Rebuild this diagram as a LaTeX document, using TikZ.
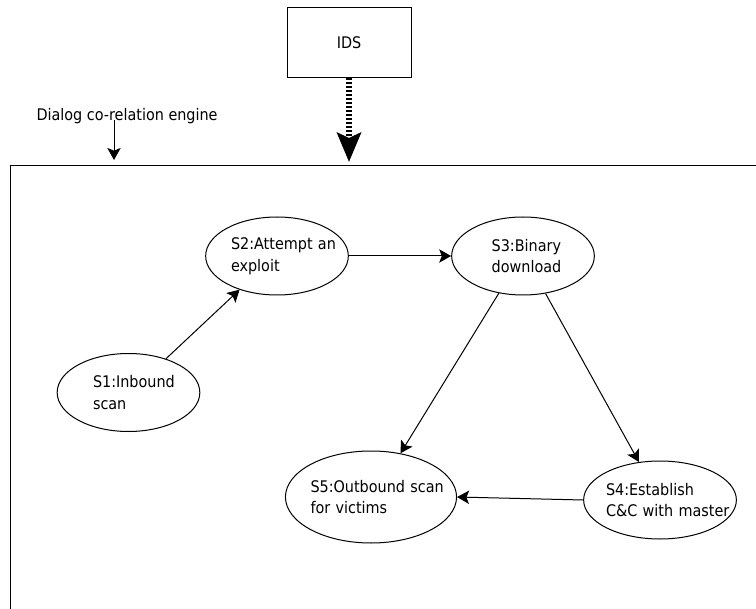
\documentclass[tikz,border=0pt]{standalone}
\usepackage{fontspec}
\setmainfont{DejaVu Sans Condensed}
\usetikzlibrary{arrows.meta,shapes.geometric}
\hyphenpenalty=10000
\tikzset{
  state/.style={ellipse,draw,inner sep=0pt,align=left,minimum width=107pt,minimum height=58.5pt},
  >={Stealth[length=9pt,width=10pt,inset=2pt]}
}
\begin{document}
\begin{tikzpicture}[x=.75pt,y=-.75pt,line width=.75pt,font=\fontsize{12pt}{16.3pt}\selectfont]
\useasboundingbox (0,0) rectangle (756,609);
\draw (10,609) -- (10,166) -- (756,166);
\node[draw,minimum width=93pt,minimum height=53pt] (ids) at (349,42.5) {IDS};
\coordinate (idsend) at (349,162);
\draw[line width=4pt,dash pattern=on 1.5pt off 1.5pt,-{Stealth[length=22pt,width=18pt,inset=4pt]}] (ids.south) -- (idsend);
\node[anchor=base west,inner sep=0pt] (engine) at (36,121) {Dialog co-relation engine};
\coordinate (engtop) at (114,120);
\coordinate (engend) at (114,160);
\draw[->] (engtop) -- (engend);
\node[state,text width=53.25pt] (s1) at (128.5,392.5) {S1:Inbound\\scan};
\node[state,text width=69pt] (s2) at (277,256) {S2:Attempt~an\\exploit};
\node[state,text width=47pt] (s3) at (523,256) {S3:Binary\\download};
\node[state,text width=81pt] (s4) at (660,500) {S4:Establish\\C\&C~with~master};
\node[state,text width=90.75pt,minimum width=115.5pt,minimum height=69pt] (s5) at (371,497) {S5:Outbound~scan\\for~victims};
\foreach \a/\b in {s1.42/s2.222,s2.east/s3.west,s3.237/s5.56,s3.301/s4.119,s4.west/s5.east}
\draw[->] (\a) -- (\b);
\end{tikzpicture}
\end{document}
